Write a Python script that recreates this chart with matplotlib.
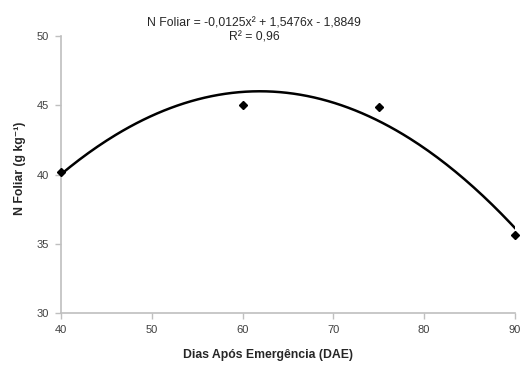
import numpy as np
import matplotlib
matplotlib.use("Agg")
import matplotlib.pyplot as plt

plt.rcParams['font.family'] = ['Liberation Sans', 'DejaVu Sans']

# Data
dae = [40, 60, 75, 90]
n_foliar = [40.2, 45.0, 44.9, 35.6]
# Trendline coefficients shown in the chart (a, b, c)
coef = [-0.0125, 1.5476, -1.8849]
equation = "N Foliar = -0,0125x\u00b2 + 1,5476x - 1,8849"
r2_text = "R\u00b2 = 0,96"
x_ticks = [40, 50, 60, 70, 80, 90]
y_ticks = [30, 35, 40, 45, 50]

fig = plt.figure(figsize=(5.32, 3.65), dpi=100)
ax = fig.add_axes([0.1147, 0.1425, 0.853, 0.7585])

xs = np.linspace(min(dae), max(dae), 200)
ax.plot(xs, np.polyval(coef, xs), color='black', lw=1.8, zorder=2)
ax.plot(dae, n_foliar, linestyle='none', marker='D', markersize=4,
        color='black', zorder=3, clip_on=False)

ax.set_xlim(40, 90)
ax.set_ylim(30, 50)
ax.set_xticks(x_ticks)
ax.set_yticks(y_ticks)
ax.tick_params(axis='both', labelsize=8, colors='#bfbfbf', labelcolor='#404040',
               length=4, width=1, direction='out', pad=5)

for s in ['top', 'right']:
    ax.spines[s].set_visible(False)
for s in ['left', 'bottom']:
    ax.spines[s].set_color('#bfbfbf')
    ax.spines[s].set_linewidth(1.2)

ax.set_xlabel("Dias Após Emergência (DAE)", fontsize=8.8, fontweight='bold',
              color='#262626', labelpad=10)
ax.xaxis.label.set_x(0.456)
ax.set_ylabel("N Foliar (g kg\u207b\u00b9)", fontsize=8.8, fontweight='bold',
              color='#262626', labelpad=7)
ax.yaxis.label.set_y(0.523)

fig.text(254 / 532, 1 - 23 / 365, equation, ha='center', va='center',
         fontsize=8.8, color='#262626')
fig.text(254 / 532, 1 - 37 / 365, r2_text, ha='center', va='center',
         fontsize=8.8, color='#262626')

fig.savefig("out.png", dpi=100)
